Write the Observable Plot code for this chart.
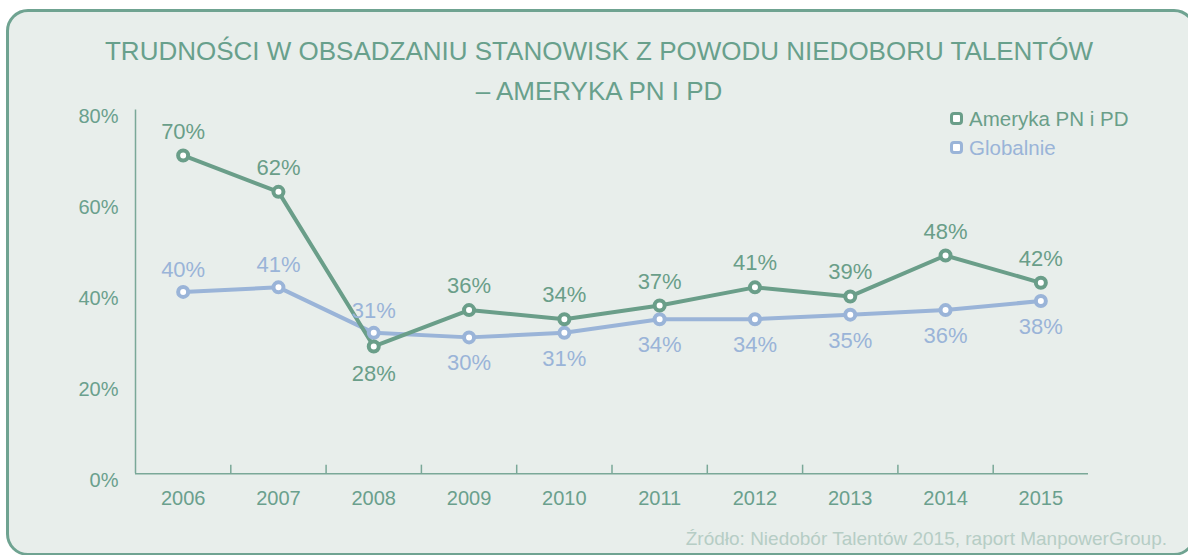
<!DOCTYPE html>
<html><head><meta charset="utf-8">
<script src="https://cdn.jsdelivr.net/npm/d3@7"></script>
<script src="https://cdn.jsdelivr.net/npm/@observablehq/plot@0.6"></script>
<style>
html,body{margin:0;padding:0;background:#fff;width:1188px;height:555px;overflow:hidden;font-family:"Liberation Sans",Arial,sans-serif;}
#card{position:absolute;left:6px;top:9px;width:1190px;height:547px;box-sizing:border-box;border:3px solid #6fa391;border-radius:22px;background:#e8eeeb;}
#title{position:absolute;left:0;top:31px;width:1198px;text-align:center;color:#68a08c;font-size:26px;line-height:40px;}
#chart{position:absolute;left:0;top:95px;}
#legend{position:absolute;left:950px;top:104px;font-size:20.5px;line-height:29px;}
#legend div{display:flex;align-items:center;}
#legend span.m{display:inline-block;width:7px;height:7px;border-radius:4px;border:3.5px solid;background:#fff;margin-right:6px;}
#caption{position:absolute;right:21px;top:528px;color:#b6cdc5;font-size:19px;}
</style></head>
<body>
<div id="card"></div>
<div id="title">TRUDNOŚCI W OBSADZANIU STANOWISK Z POWODU NIEDOBORU TALENTÓW<br>– AMERYKA PN I PD</div>
<div id="chart"></div>
<div id="legend"></div>
<div id="caption">Źródło: Niedobór Talentów 2015, raport ManpowerGroup.</div>
<script>
const years = [2006, 2007, 2008, 2009, 2010, 2011, 2012, 2013, 2014, 2015];
const americas = [70, 62, 28, 36, 34, 37, 41, 39, 48, 42];
const globalVals = [40, 41, 31, 30, 31, 34, 34, 35, 36, 38];
const americasLabelPos = ["above","above","below","above","above","above","above","above","above","above"];
const globalLabelPos = ["above","above","above","below","below","below","below","below","below","below"];
const yTicks = [0, 20, 40, 60, 80];
const seriesNames = ["Ameryka PN i PD", "Globalnie"];
const colors = ["#6a9e89", "#9ab4d8"];

const amData = years.map((y, i) => ({year: y, v: americas[i], pos: americasLabelPos[i]}));
const glData = years.map((y, i) => ({year: y, v: globalVals[i], pos: globalLabelPos[i]}));
const boundaries = years.slice(0, -1).map(y => y + 0.5);

const axisColor = "#7aa898";
const chart = Plot.plot({
  width: 1188, height: 430,
  marginLeft: 135, marginRight: 100, marginTop: 14.5, marginBottom: 51.7,
  style: {fontFamily: "'Liberation Sans', Arial, sans-serif", background: "transparent", overflow: "visible"},
  x: {domain: [2005.5, 2015.5], label: null},
  y: {domain: [0, 80], label: null},
  marks: [
    Plot.axisX({ticks: years, tickFormat: "d", tickSize: 0, tickPadding: 17, fontSize: 20, color: "#6aa08d", label: null}),
    Plot.axisY({ticks: yTicks, tickFormat: d => d + "%", tickSize: 0, tickPadding: 17, fontSize: 20, color: "#6aa08d", label: null, dy: 7}),
    Plot.ruleY([0], {stroke: axisColor, strokeWidth: 1.5}),
    Plot.ruleX([2005.5], {y1: 0, y2: 80, stroke: axisColor, strokeWidth: 1.5}),
    Plot.ruleX(boundaries, {y1: 0, y2: 1.9, stroke: axisColor, strokeWidth: 1.5}),
    Plot.line(glData, {x: "year", y: "v", stroke: colors[1], strokeWidth: 4}),
    Plot.line(amData, {x: "year", y: "v", stroke: colors[0], strokeWidth: 4}),
    Plot.dot(glData, {x: "year", y: "v", r: 5, fill: "#fff", stroke: colors[1], strokeWidth: 4}),
    Plot.dot(amData, {x: "year", y: "v", r: 5, fill: "#fff", stroke: colors[0], strokeWidth: 4}),
    Plot.text(amData.filter(d => d.pos === "above"), {x: "year", y: "v", text: d => d.v + "%", dy: -24, fill: colors[0], fontSize: 22}),
    Plot.text(amData.filter(d => d.pos === "below"), {x: "year", y: "v", text: d => d.v + "%", dy: 27, fill: colors[0], fontSize: 22}),
    Plot.text(glData.filter(d => d.pos === "above"), {x: "year", y: "v", text: d => d.v + "%", dy: -22, fill: colors[1], fontSize: 22}),
    Plot.text(glData.filter(d => d.pos === "below"), {x: "year", y: "v", text: d => d.v + "%", dy: 26, fill: colors[1], fontSize: 22})
  ]
});
document.getElementById("chart").appendChild(chart);

const leg = document.getElementById("legend");
seriesNames.forEach((n, i) => {
  const row = document.createElement("div");
  row.style.color = colors[i];
  const m = document.createElement("span");
  m.className = "m"; m.style.borderColor = colors[i];
  row.appendChild(m);
  row.appendChild(document.createTextNode(n));
  leg.appendChild(row);
});
</script>
</body></html>
